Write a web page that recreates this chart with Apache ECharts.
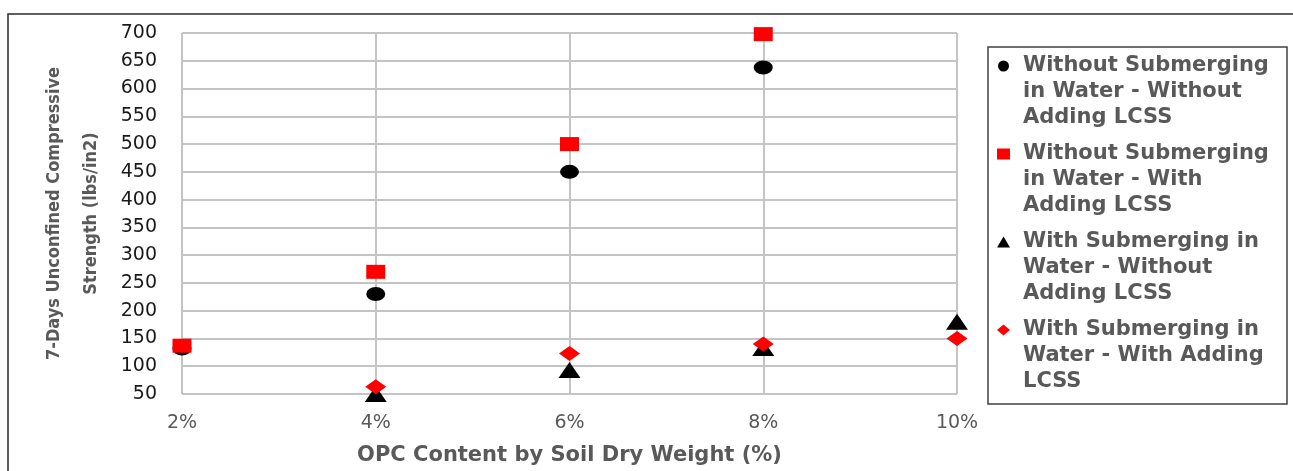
<!DOCTYPE html>
<html>
<head>
<meta charset="utf-8">
<script src="https://cdn.jsdelivr.net/npm/echarts@6/dist/echarts.min.js"></script>
<style>
html,body{margin:0;padding:0;background:#fff;}
#chart{width:1293px;height:471px;}
</style>
</head>
<body>
<div id="chart"></div>
<script>
// ---- data ----
const xValues = [2, 4, 6, 8, 10];
const seriesNames = [
  'Without Submerging in Water - Without Adding LCSS',
  'Without Submerging in Water - With Adding LCSS',
  'With Submerging in Water - Without Adding LCSS',
  'With Submerging in Water - With Adding LCSS'
];
const legendLines = [
  'Without Submerging\nin Water - Without\nAdding LCSS',
  'Without Submerging\nin Water - With\nAdding LCSS',
  'With Submerging in\nWater - Without\nAdding LCSS',
  'With Submerging in\nWater - With Adding\nLCSS'
];
const dryNoLcss   = [132, 230, 450, 638, null];
const dryLcss     = [137, 270, 500, 698, null];
const wetNoLcss   = [null, 50, 93, 133, 180];
const wetLcss     = [null, 63, 123, 140, 150];
const yTitle = '7-Days Unconfined Compressive\nStrength (lbs/in2)';
const xTitle = 'OPC Content by Soil Dry Weight (%)';

// ---- chart ----
function pairs(vals) {
  const out = [];
  vals.forEach((v, i) => { if (v !== null) out.push([xValues[i], v]); });
  return out;
}
const symbols = ['circle', 'rect', 'triangle', 'diamond'];
const sizes = [[19, 14], [19, 14], [22, 16], [21, 15]];
const colors = ['#000000', '#ff0000', '#000000', '#ff0000'];
const allData = [dryNoLcss, dryLcss, wetNoLcss, wetLcss];

const gridColor = '#c4c4c4';
const chart = echarts.init(document.getElementById('chart'));
chart.setOption({
  animation: false,
  backgroundColor: '#ffffff',
  grid: { left: 182, right: 336, top: 33, bottom: 76, containLabel: false },
  xAxis: {
    type: 'value', min: 2, max: 10, interval: 2,
    axisLine: { show: false },
    axisTick: { show: false },
    splitLine: { show: true, lineStyle: { color: gridColor, width: 2 } },
    axisLabel: { formatter: '{value}%', color: '#595959', fontFamily: 'DejaVu Sans', fontSize: 19, margin: 20 },
    name: xTitle, nameLocation: 'middle', nameGap: 51,
    nameTextStyle: { color: '#595959', fontFamily: 'DejaVu Sans', fontWeight: 'bold', fontSize: 21 }
  },
  yAxis: {
    type: 'value', min: 50, max: 700, interval: 50,
    axisLine: { show: false },
    axisTick: { show: false },
    splitLine: { show: true, lineStyle: { color: gridColor, width: 2 } },
    axisLabel: { color: '#1a1a1a', fontFamily: 'DejaVu Sans', fontSize: 19, margin: 25 },
    name: yTitle, nameLocation: 'middle', nameGap: 72, nameRotate: 90,
    nameTextStyle: { color: '#595959', fontFamily: "'Liberation Sans Narrow', 'DejaVu Sans Condensed', 'Liberation Sans'", fontWeight: 'bold', fontSize: 18, lineHeight: 37 }
  },
  legend: {
    orient: 'vertical', left: 997, top: 1, padding: 0,
    itemWidth: 13, itemHeight: 11, itemGap: -42,
    data: seriesNames,
    formatter: function (name) { return '\n\n' + legendLines[seriesNames.indexOf(name)]; },
    textStyle: { color: '#595959', fontFamily: 'DejaVu Sans', fontWeight: 'bold', fontSize: 21, lineHeight: 26, padding: [0, 0, 0, 8] },
    selectedMode: false
  },
  graphic: [
    { type: 'polyline', silent: true, z: -1, shape: { points: [[8, 480], [8, 14], [1300, 14]] }, style: { fill: null, stroke: '#2b2b2b', lineWidth: 1.5 } },
    { type: 'rect', silent: true, z: -1, shape: { x: 988, y: 47, width: 299, height: 357 }, style: { fill: null, stroke: '#404040', lineWidth: 1.5 } }
  ],
  series: allData.map((d, i) => ({
    name: seriesNames[i],
    type: 'scatter',
    clip: false,
    symbol: symbols[i],
    symbolSize: sizes[i],
    itemStyle: { color: colors[i], opacity: 1 },
    emphasis: { disabled: true },
    z: 2 + i,
    data: pairs(d)
  }))
});
</script>
</body>
</html>
